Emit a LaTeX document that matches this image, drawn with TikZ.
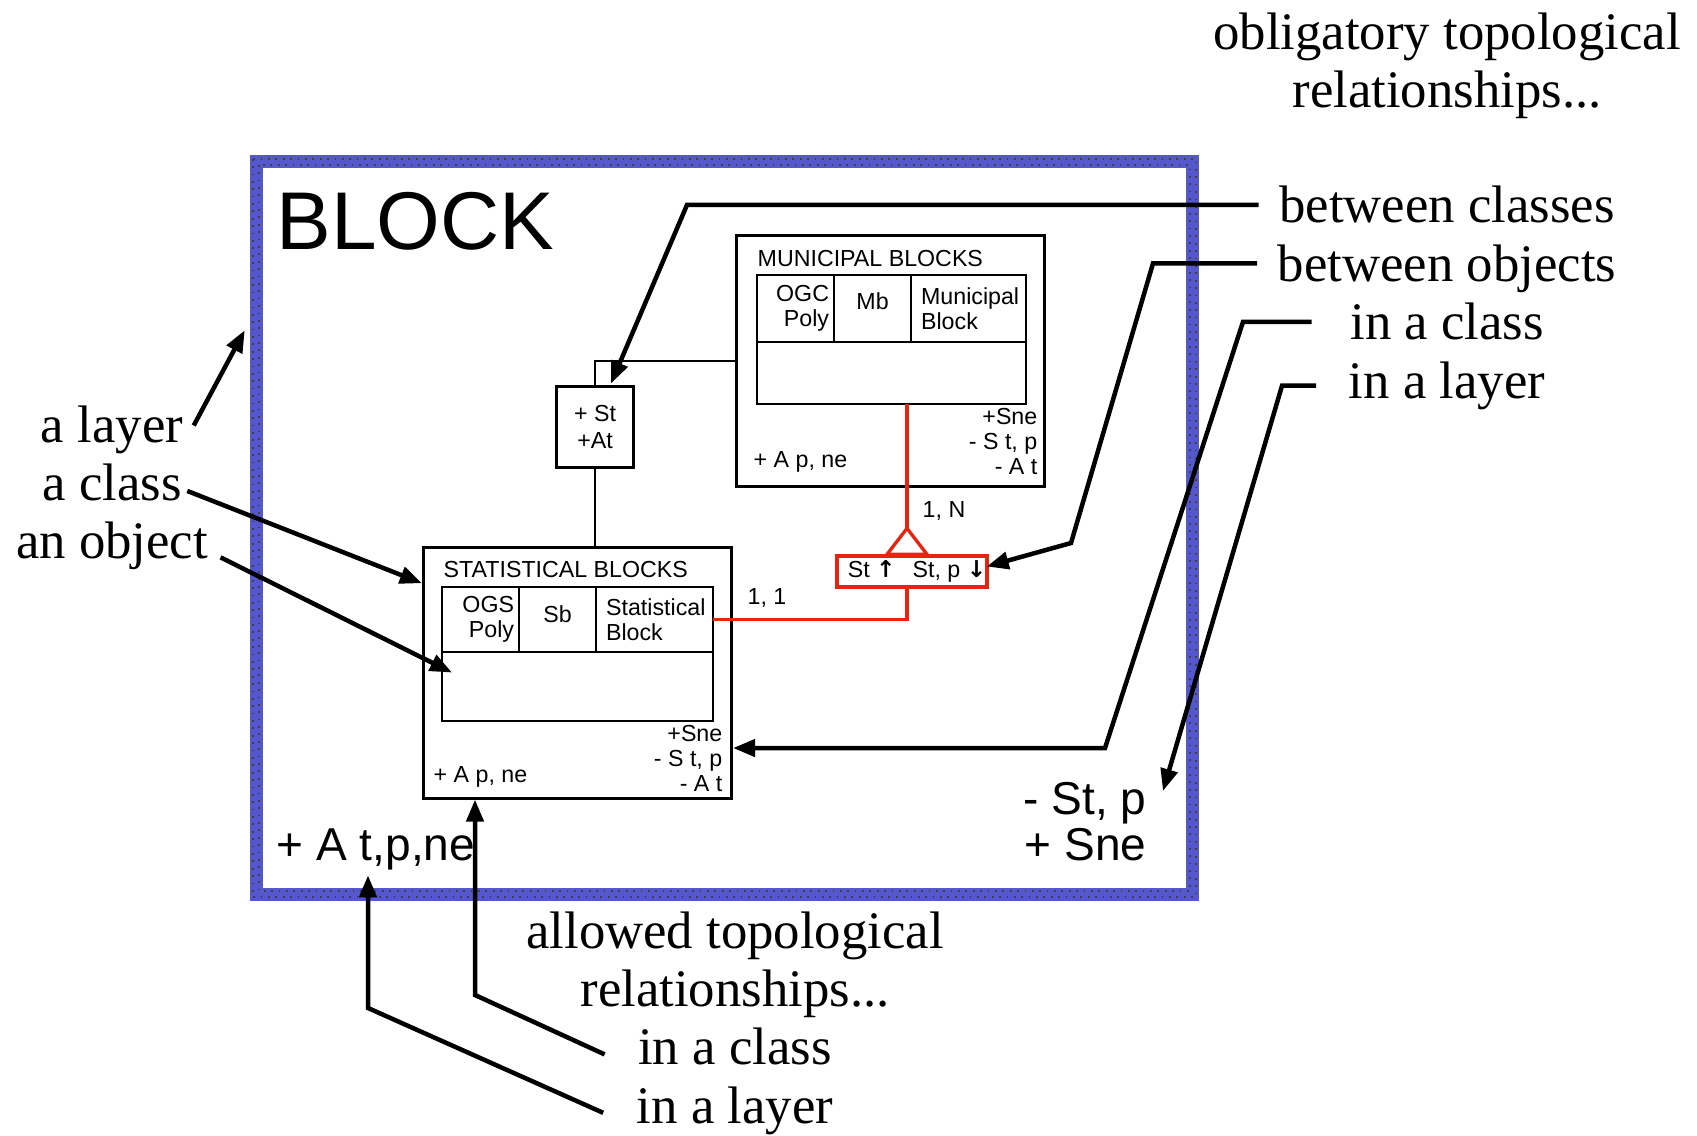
\documentclass[tikz,border=0pt]{standalone}
\usepackage{fontspec}
\setmainfont{Liberation Serif}
\setsansfont{Liberation Sans}
\newfontfamily\arrowfont{DejaVu Sans}
\usetikzlibrary{positioning,calc,arrows.meta}
\definecolor{layerblue}{RGB}{84,88,204}
\definecolor{relred}{RGB}{232,36,16}

\begin{document}
\begin{tikzpicture}[
    x=0.01cm, y=-0.01cm,
    layerbox/.style={draw=layerblue, line width=0.13cm, minimum width=9.36cm, minimum height=7.32cm, inner sep=0pt},
    layerdots/.style={draw=black!75, line width=0.5pt, dash pattern=on 0.5pt off 1.6pt},
    classbox/.style={draw, line width=0.03cm, minimum width=3.08cm, minimum height=2.5cm, inner sep=0pt},
    cell/.style={draw, line width=0.015cm, inner xsep=0.05cm, inner ysep=0pt, outer sep=0pt, font=\sffamily\fontsize{6.6}{7.1}\selectfont},
    smalltext/.style={font=\sffamily\fontsize{6.6}{7.1}\selectfont, inner sep=0pt},
    midtext/.style={font=\sffamily\fontsize{13.1}{13.1}\selectfont, inner sep=0pt},
    note/.style={font=\fontsize{15}{18}\selectfont, inner sep=0pt, text height=0.39cm, text depth=0.18cm},
    lead/.style={line width=0.045cm, -{Triangle[length=0.22cm, width=0.17cm]}},
    thinline/.style={line width=0.015cm},
    relline/.style={draw=relred, line width=0.033cm}
]
% Layer BLOCK with the classes of municipal and statistical blocks,
% and the notes on allowed and obligatory topological relationships.
\useasboundingbox (0,0) rectangle (1697,1135);
\node[layerbox] (layer) at (724.5,528) {};
\draw[layerdots] ($(layer.north west)+(3.5,3.5)$) rectangle ($(layer.south east)+(-3.5,-3.5)$);
\draw[layerdots] ($(layer.north west)+(9.5,9.5)$) rectangle ($(layer.south east)+(-9.5,-9.5)$);
\node[anchor=base west, inner sep=0pt, font=\sffamily\fontsize{23.3}{28}\selectfont] (title) at (276,249) {BLOCK};

% classes
\node[classbox] (mun) at (890.5,361) {};
\node[classbox] (stat) at (577.5,673) {};

\node[smalltext, anchor=base west] (muntitle) at (757,266) {MUNICIPAL BLOCKS};
\node[cell, anchor=north west, minimum height=0.67cm, text width=0.67cm, align=right] (mc1) at (757,275) {OGC\\Poly};
\node[cell, right=0pt of mc1, minimum width=0.77cm, minimum height=0.67cm, text depth=0.15cm] (mc2) {Mb};
\node[cell, right=0pt of mc2, minimum height=0.67cm, text width=0.95cm, inner xsep=0.1cm, align=left] (mc3) {Municipal\\Block};
\node[cell, anchor=north west, minimum width=2.69cm, minimum height=0.62cm] (mrow) at (mc1.south west) {};
\node[smalltext, anchor=base west] (mlow) at (753,467) {+ A p, ne};
\node[smalltext, anchor=south east, align=right] (mhigh) at (1038,475) {+Sne\\- S t, p\\- A t};

\node[smalltext, anchor=base west] (stattitle) at (443,577) {STATISTICAL BLOCKS};
\node[cell, anchor=north west, minimum height=0.65cm, text width=0.67cm, align=right] (sc1) at (442,587) {OGS\\Poly};
\node[cell, right=0pt of sc1, minimum width=0.77cm, minimum height=0.65cm, text depth=0.11cm] (sc2) {Sb};
\node[cell, right=0pt of sc2, minimum height=0.65cm, text width=0.97cm, inner xsep=0.1cm, align=left] (sc3) {Statistical\\Block};
\node[cell, anchor=north west, minimum width=2.71cm, minimum height=0.69cm] (srow) at (sc1.south west) {};
\node[smalltext, anchor=base west] (slow) at (433,782) {+ A p, ne};
\node[smalltext, anchor=south east, align=right] (shigh) at (723,792) {+Sne\\- S t, p\\- A t};

% relationships between the classes
\node[draw, line width=0.03cm, minimum width=0.76cm, minimum height=0.8cm, inner sep=0pt, align=center, font=\sffamily\fontsize{6.6}{7.7}\selectfont] (opbox) at (595,427) {+ St\\+At};
\draw[thinline] (opbox.north) |- (mun.west);
\draw[thinline] (opbox.south) -- (opbox.south |- stat.north);

\node[draw=relred, line width=0.033cm, minimum width=1.5cm, minimum height=0.31cm, inner sep=0pt, font=\sffamily\fontsize{6.6}{7.1}\selectfont] (rel) at (912,571.5) {\hspace{0.1cm}St {\arrowfont\bfseries ↑}\hspace{0.17cm}St, p {\arrowfont\bfseries ↓}};
\coordinate (isa) at ($(rel.north)+(-5,-26)$);
\draw[relline] (mrow.south -| isa) -- (isa);
\draw[relline, fill=white] (isa) -- ++(-20,26) -- ++(40,0) -- cycle;
\draw[relline] (rel.south -| isa) |- (sc3.east);
\node[smalltext, anchor=base west] (card1) at (922,517) {1, N};
\node[smalltext, anchor=base west] (card2) at (747,604) {1, 1};

% texts of the layer
\node[midtext, anchor=base west, inner sep=0.05cm] (atpn) at (271,860) {+ A t,p,ne};
\node[midtext, anchor=south east, align=right] (lyrtxt) at (1147,862) {- St, p\\+ Sne};

% notes
\node[note, anchor=base] (obl1) at (1447,49) {obligatory topological};
\node[note, below=0pt of obl1] (obl2) {relationships...};
\node[note, below=0.57cm of obl2] (tcls) {between classes};
\node[note, below=0pt of tcls] (tobj) {between objects};
\node[note, below=0pt of tobj] (tcl) {in a class};
\node[note, below=0pt of tcl] (tlay) {in a layer};

\node[note, anchor=base] (llay) at (112,442) {a layer};
\node[note, below=0pt of llay] (lcls) {a class};
\node[note, below=0pt of lcls] (lobj) {an object};

\node[note, anchor=base] (ballow) at (735,948) {allowed topological};
\node[note, below=0pt of ballow] (brel) {relationships...};
\node[note, below=0pt of brel] (bcls) {in a class};
\node[note, below=0pt of bcls] (blay) {in a layer};

% leaders
\draw[lead, shorten <=0.2cm] ([yshift=0.075cm]tcls.west) coordinate (s1) -- (s1 -| 687,0) -- ($(opbox.north)+(16,-2)$);
\draw[lead, shorten <=0.2cm] ([yshift=0.075cm]tobj.west) coordinate (s2) -- (s2 -| 1153,0) -- (1071,543) -- ($(rel.east)+(-2,-5)$);
\draw[lead, shorten <=0.38cm] ([yshift=0.075cm]tcl.west) coordinate (s3) -- (s3 -| 1243,0) -- (1105,748) -- (stat.east |- 1105,748);
\draw[lead, shorten <=0.32cm] ([yshift=0.02cm]tlay.west) coordinate (s4) -- (s4 -| 1282,0) -- ($(lyrtxt.north east)+(16,9)$);
\draw[lead] ($(llay.east)+(10,-6)$) -- ($(layer.north west)+(-5,175)$);
\draw[lead] ($(lcls.east)+(5,1)$) -- (stat.150);
\draw[lead] ($(lobj.east)+(12,9)$) -- ($(srow.west)+(10,-14)$);
\draw[lead] ($(bcls.west)+(-33,0)$) -- (475,995) -- (stat.south -| 475,995);
\draw[lead] ($(blay.west)+(-33,0)$) -- (368,1008) -- (atpn.south -| 368,1008);
\end{tikzpicture}
\end{document}
